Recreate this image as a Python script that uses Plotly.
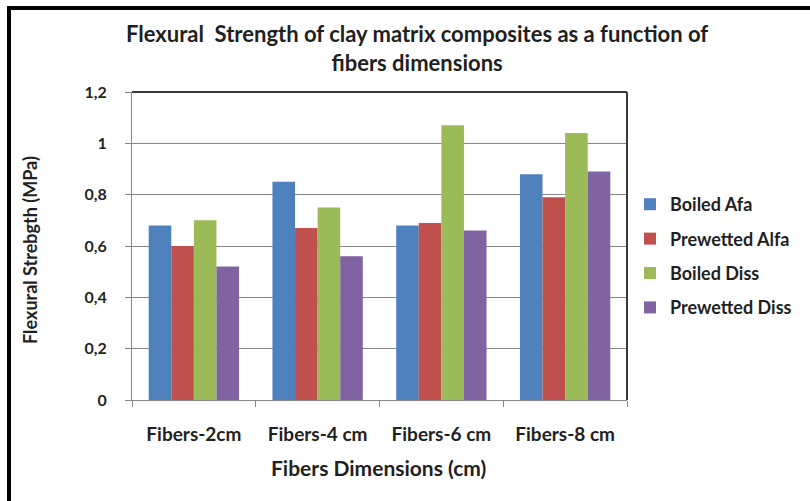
import plotly.graph_objects as go

categories = ["Fibers-2cm", "Fibers-4 cm", "Fibers-6 cm", "Fibers-8 cm"]
boiled_alfa = [0.68, 0.85, 0.68, 0.88]
prewetted_alfa = [0.60, 0.67, 0.69, 0.79]
boiled_diss = [0.70, 0.75, 1.07, 1.04]
prewetted_diss = [0.52, 0.56, 0.66, 0.89]

series_names = ["Boiled Afa", "Prewetted Alfa", "Boiled Diss", "Prewetted Diss"]
series_values = [boiled_alfa, prewetted_alfa, boiled_diss, prewetted_diss]
series_colors = ["#4F81BD", "#C0504D", "#9BBB59", "#8064A2"]

y_tickvals = [0, 0.2, 0.4, 0.6, 0.8, 1.0, 1.2]
y_ticktext = ["0", "0,2", "0,4", "0,6", "0,8", "1", "1,2"]

FONT = "Lato"
TEXT = "#1f1f1f"

fig = go.Figure()
for name, vals, col in zip(series_names, series_values, series_colors):
    fig.add_trace(go.Bar(
        x=categories, y=vals, name=name, legendgroup=name,
        marker=dict(color=col, line=dict(width=0)),
    ))

# plot-area geometry in pixels
L, R, T, B = 132, 627, 92, 400
W, H = 810, 501
pw, ph = R - L, B - T


def px_x(p):
    return (p - L) / pw


def px_y(p):
    return (B - p) / ph


fig.update_layout(
    width=W, height=H,
    margin=dict(l=L, r=W - R, t=T, b=H - B, pad=0),
    paper_bgcolor="white", plot_bgcolor="white",
    barmode="group", bargap=0.27, bargroupgap=0,
    font=dict(family=FONT, color=TEXT),
    showlegend=True,
    legend=dict(
        x=px_x(630), y=px_y(186), xanchor="left", yanchor="top",
        font=dict(family=FONT, size=18, color=TEXT, weight="bold"),
        tracegroupgap=8, itemwidth=30, bgcolor="rgba(0,0,0,0)",
    ),
    xaxis=dict(
        showgrid=False, showline=True, linecolor="#868686", linewidth=1,
        ticks="outside", tickson="boundaries", ticklen=6, tickcolor="#868686",
        tickfont=dict(family=FONT, size=19, color=TEXT, weight="bold"),
        ticklabelstandoff=17,
    ),
    yaxis=dict(
        range=[0, 1.2], tickvals=y_tickvals, ticktext=y_ticktext,
        showgrid=True, gridcolor="#868686", gridwidth=1,
        showline=True, linecolor="#868686", linewidth=1,
        ticks="outside", ticklen=6, tickcolor="#868686",
        tickfont=dict(family=FONT, size=16, color=TEXT, weight="bold"),
        ticklabelstandoff=15, zeroline=False,
    ),
)

# dark border on top and right of plot area
fig.add_shape(type="line", xref="paper", yref="paper", x0=0, x1=1, y0=1, y1=1,
              line=dict(color="#3a3a3a", width=2))
fig.add_shape(type="line", xref="paper", yref="paper", x0=1, x1=1, y0=0, y1=1,
              line=dict(color="#3a3a3a", width=2))

# outer chart frame
fig.add_shape(type="rect", xref="paper", yref="paper",
              x0=px_x(9), x1=px_x(840), y0=px_y(8), y1=px_y(540),
              line=dict(color="black", width=4), layer="above")

fig.add_annotation(
    xref="paper", yref="paper", x=px_x(417), y=px_y(48),
    xanchor="center", yanchor="middle", showarrow=False,
    text="Flexural  Strength of clay matrix composites as a function of<br>fibers dimensions",
    font=dict(family=FONT, size=22, color=TEXT, weight="bold"),
)
fig.add_annotation(
    xref="paper", yref="paper", x=px_x(378), y=px_y(467),
    xanchor="center", yanchor="middle", showarrow=False,
    text="Fibers Dimensions (cm)",
    font=dict(family=FONT, size=21, color=TEXT, weight="bold"),
)
fig.add_annotation(
    xref="paper", yref="paper", x=px_x(30), y=px_y(250),
    xanchor="center", yanchor="middle", showarrow=False, textangle=-90,
    text="Flexural Strebgth (MPa)",
    font=dict(family=FONT, size=18, color=TEXT, weight="bold"),
)

fig.write_html("out.html")
